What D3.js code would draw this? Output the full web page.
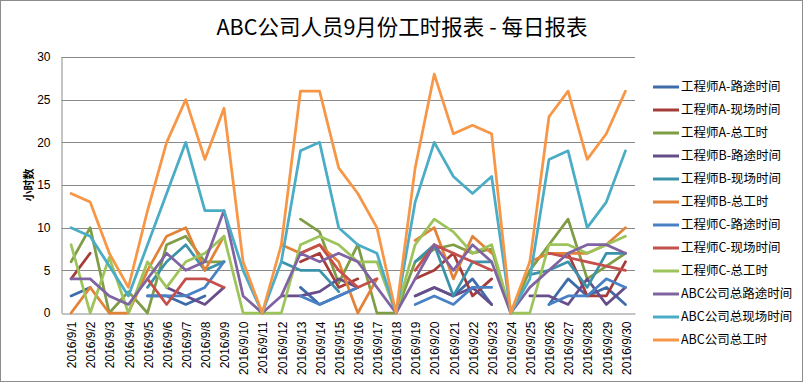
<!DOCTYPE html>
<html><head><meta charset="utf-8">
<script src="https://cdn.jsdelivr.net/npm/d3@7"></script>
<style>
html,body{margin:0;padding:0;background:#fff;}
svg{display:block;font-family:"Noto Sans CJK SC","Noto Sans",sans-serif;}
</style></head>
<body><svg id="c" width="804" height="384"></svg>
<script>
const title = "ABC公司人员9月份工时报表 - 每日报表";
const yTitle = "小时数";
const dates = d3.range(1, 31).map(d => "2016/9/" + d);
const yTicks = [0, 5, 10, 15, 20, 25, 30];
const seriesNames = ["工程师A-路途时间","工程师A-现场时间","工程师A-总工时","工程师B-路途时间","工程师B-现场时间","工程师B-总工时","工程师C-路途时间","工程师C-现场时间","工程师C-总工时","ABC公司总路途时间","ABC公司总现场时间","ABC公司总工时"];
const seriesColors = ["#3d6ca8","#a53c39","#7e9d45","#674e8a","#3a93aa","#e2833a","#4a80c4","#c4504d","#9cc45a","#8064a2","#4bacc6","#f79646"];
const N = null;
const aRoute  = [2,3,N,N,2,2,1,2,N,N,N,N,3,1,2,3,N,N,2,3,2,4,1,N,N,1,4,2,3,1];
const aSite   = [4,7,N,N,N,N,N,N,N,N,N,N,6,7,3,4,N,N,4,5,7,2,4,N,N,7,7,2,2,6];
const aTotal  = [6,10,0,2.5,0,8,9,6,6,N,N,N,11,9.5,3.5,8,0,0,6,7.5,8,7,7.5,0,5,8,11,4,5.5,7];
const bRoute  = [N,N,N,N,N,3,2,1,3,N,N,2,2,2.5,4,3,N,N,2,3,2,3,1,N,2,2,1,4,1,3];
const bSite   = [N,N,N,N,3,6,8,5,6,N,N,6,5,5,2.5,N,N,N,6,8,2,6,6,N,4.5,5,6,3,7,7];
const bTotal  = [0,3,0,0,5,9,10,5,9,N,N,8,7,8,6,0,4,N,8.5,10,4,9,7,N,6,7,7,7,8,10];
const cRoute  = [N,N,N,N,2,2,2,3,6,N,N,N,2,1,2,3,N,N,1,2,1,3,3,N,N,1,2,2,4,3];
const cSite   = [N,N,N,N,4,1,4,4,3,N,N,N,7,8,5,3,4,N,5,8,7,6,5,N,N,7,6.5,6,5.5,5];
const cTotal  = [8,0,6.5,0,6,3,6,7,9,0,0,0,8,9,8,6,6,0,8,11,9.5,7,8,0,0,8,8,7,8,9];
const abcRoute= [4,4,2,1,4,7,5,6,12,2,0,2,7,6,7,6,3,0,4,8,5,8,6,0,3,5,7,8,8,7];
const abcSite = [10,9,5.5,2,8,14,20,12,12,5,0,6,19,20,10,8,7,0,13,20,16,14,16,0,4,18,19,10,13,19];
const abcTotal= [14,13,7,3,12,20,25,18,24,6,0,8,26,26,17,14,10,0,17,28,21,22,21,0,6,23,26,18,21,26];
const seriesValues = [aRoute,aSite,aTotal,bRoute,bSite,bTotal,cRoute,cSite,cTotal,abcRoute,abcSite,abcTotal];

const svg = d3.select("#c");
svg.append("rect").attr("x",0.5).attr("y",0.5).attr("width",802).attr("height",381)
  .attr("fill","#fff").attr("stroke","#8c8c8c");

const x = d3.scaleBand().domain(dates).range([61.5, 635]);
const y = d3.scaleLinear().domain([0, 30]).range([313, 57]);
const cx = d => x(d) + x.bandwidth() / 2;

// gridlines
svg.append("g").selectAll("line").data(yTicks.filter(t => t > 0)).join("line")
  .attr("x1", 61.5).attr("x2", 635).attr("y1", d => Math.round(y(d)) + 0.5).attr("y2", d => Math.round(y(d)) + 0.5)
  .attr("stroke", "#8a8a8a").attr("stroke-width", 1);

// y axis
const ya = svg.append("g").attr("transform", "translate(61.5,0)")
  .call(d3.axisLeft(y).tickValues(yTicks).tickSize(0).tickPadding(11));
ya.select(".domain").attr("stroke", "#8a8a8a");
ya.selectAll("text").attr("font-size", 12).attr("fill", "#000").attr("font-family", "'Liberation Sans',sans-serif");

// x axis
const xa = svg.append("g").attr("transform", "translate(0,313.5)")
  .call(d3.axisBottom(x).tickSize(0).tickPadding(0));
xa.select(".domain").attr("stroke", "#8a8a8a");
xa.selectAll("text").attr("font-size", 12).attr("fill", "#000")
  .attr("font-family", "'Liberation Sans',sans-serif")
  .attr("text-anchor", "end").attr("dy", "0.35em")
  .attr("transform", "translate(1,8) rotate(-90)").attr("x", 0).attr("y", 0);

// lines
const line = d3.line().defined(d => d.v !== null).x(d => cx(d.date)).y(d => y(d.v));
seriesValues.forEach((vals, i) => {
  svg.append("path")
    .datum(vals.map((v, j) => ({ date: dates[j], v })))
    .attr("fill", "none").attr("stroke", seriesColors[i]).attr("stroke-width", 2.75)
    .attr("stroke-linejoin", "round").attr("stroke-linecap", "round")
    .attr("d", line);
});

// title
svg.append("text").attr("x", 402).attr("y", 35).attr("text-anchor", "middle")
  .attr("font-size", 21.5).attr("fill", "#000").text(title);

// y title
svg.append("text").attr("transform", "translate(33,185) rotate(-90)").attr("text-anchor", "middle")
  .attr("font-size", 11).attr("font-weight", "bold").attr("fill", "#000").text(yTitle);

// legend
const lg = svg.append("g").selectAll("g").data(seriesNames).join("g")
  .attr("transform", (d, i) => `translate(653,${87 + i * 23})`);
lg.append("line").attr("x1", 0).attr("x2", 26).attr("stroke", (d, i) => seriesColors[i]).attr("stroke-width", 3);
lg.append("text").attr("x", 28).attr("dy", "0.35em").attr("font-size", 12.5).attr("fill", "#000").text(d => d);
</script></body></html>
